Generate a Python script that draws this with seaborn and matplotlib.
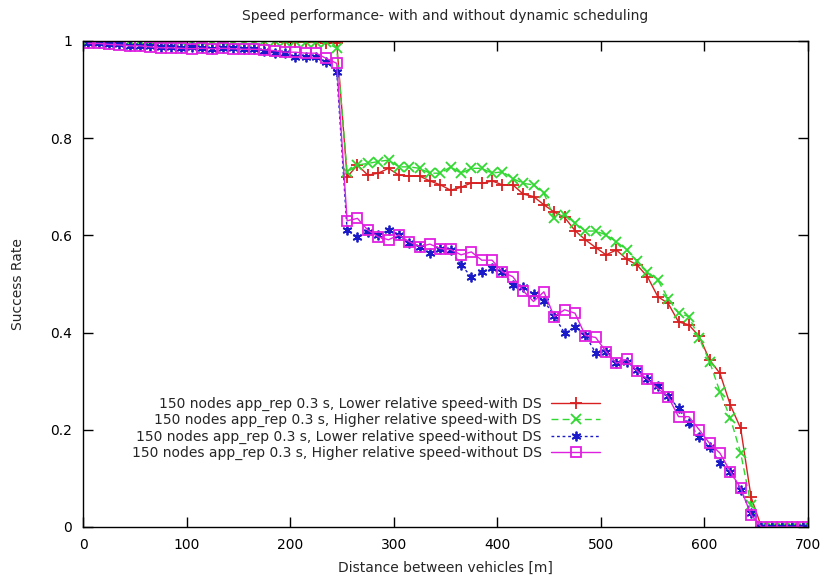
import matplotlib
matplotlib.use("Agg")
import matplotlib.pyplot as plt
import seaborn as sns
import numpy as np
import pandas as pd

# ---------------- data ----------------
distance = list(range(5, 700, 10))  # 5 .. 695

red_with_ds_low = [1.0, 1.0, 1.0, 1.0, 1.0, 1.0, 1.0, 1.0, 1.0, 1.0,
                   1.0, 1.0, 1.0, 1.0, 1.0, 1.0, 1.0, 1.0, 1.0, 0.998,
                   0.998, 0.997, 0.997, 0.996, 0.995,
                   0.72, 0.745, 0.724, 0.728, 0.738, 0.724, 0.722, 0.722, 0.712, 0.704,
                   0.693, 0.699, 0.708, 0.707, 0.712, 0.704, 0.704, 0.685, 0.68, 0.663,
                   0.648, 0.637, 0.610, 0.591, 0.575, 0.560, 0.570, 0.551, 0.539, 0.515,
                   0.474, 0.460, 0.422, 0.416, 0.392, 0.344, 0.316, 0.251, 0.203, 0.062,
                   0.0, 0.0, 0.0, 0.0, 0.0]

green_with_ds_high = [1.0, 1.0, 1.0, 1.0, 1.0, 1.0, 1.0, 1.0, 1.0, 1.0,
                      1.0, 1.0, 1.0, 1.0, 1.0, 1.0, 1.0, 1.0, 1.0, 1.0,
                      0.999, 0.998, 0.998, 0.997, 0.985,
                      0.73, 0.745, 0.748, 0.752, 0.755, 0.741, 0.741, 0.738, 0.728, 0.728,
                      0.741, 0.728, 0.738, 0.738, 0.728, 0.731, 0.717, 0.707, 0.704, 0.687,
                      0.636, 0.643, 0.625, 0.609, 0.609, 0.601, 0.587, 0.570, 0.547, 0.525,
                      0.508, 0.470, 0.440, 0.433, 0.388, 0.340, 0.278, 0.224, 0.152, 0.045,
                      0.0, 0.0, 0.0, 0.0, 0.0]

blue_without_ds_low = [0.995, 0.995, 0.993, 0.993, 0.99, 0.99, 0.99, 0.988, 0.988, 0.986,
                       0.987, 0.985, 0.984, 0.986, 0.985, 0.984, 0.983, 0.98, 0.975, 0.975,
                       0.968, 0.968, 0.968, 0.957, 0.937,
                       0.611, 0.597, 0.608, 0.600, 0.611, 0.601, 0.584, 0.577, 0.563, 0.573,
                       0.570, 0.539, 0.515, 0.525, 0.532, 0.525, 0.498, 0.493, 0.480, 0.466,
                       0.434, 0.399, 0.412, 0.395, 0.358, 0.361, 0.337, 0.340, 0.323, 0.304,
                       0.290, 0.270, 0.244, 0.213, 0.186, 0.165, 0.131, 0.114, 0.077, 0.028,
                       0.0, 0.0, 0.0, 0.0, 0.0]

magenta_without_ds_high = [0.995, 0.995, 0.993, 0.992, 0.99, 0.99, 0.988, 0.986, 0.986, 0.985,
                           0.984, 0.985, 0.984, 0.985, 0.984, 0.983, 0.983, 0.982, 0.98, 0.977,
                           0.977, 0.975, 0.975, 0.964, 0.954,
                           0.630, 0.635, 0.611, 0.597, 0.591, 0.601, 0.587, 0.577, 0.582, 0.573,
                           0.571, 0.560, 0.566, 0.549, 0.549, 0.525, 0.515, 0.486, 0.464, 0.484,
                           0.433, 0.447, 0.440, 0.394, 0.390, 0.361, 0.337, 0.345, 0.321, 0.304,
                           0.285, 0.268, 0.227, 0.227, 0.200, 0.172, 0.152, 0.114, 0.080, 0.025,
                           0.0, 0.0, 0.0, 0.0, 0.0]

labels = ["150 nodes app_rep 0.3 s, Lower relative speed-with DS",
          "150 nodes app_rep 0.3 s, Higher relative speed-with DS",
          "150 nodes app_rep 0.3 s, Lower relative speed-without DS",
          "150 nodes app_rep 0.3 s, Higher relative speed-without DS"]

x_ticks = [0, 100, 200, 300, 400, 500, 600, 700]
y_ticks = [0, 0.2, 0.4, 0.6, 0.8, 1]
y_tick_labels = ["0", "0.2", "0.4", "0.6", "0.8", "1"]

title = "Speed performance- with and without dynamic scheduling"
x_label = "Distance between vehicles [m]"
y_label = "Success Rate"

# ---------------- style ----------------
sns.set_style("ticks")
plt.rcParams["font.family"] = ["DejaVu Sans"]

fig = plt.figure(figsize=(8.24, 5.81), dpi=100)
ax = fig.add_axes([83 / 824, 1 - 527 / 581, (808 - 83) / 824, (527 - 41) / 581])

series = [red_with_ds_low, green_with_ds_high, blue_without_ds_low, magenta_without_ds_high]
colors = ["#d82020", "#30d830", "#1a1ac8", "#e020e0"]
markers = ["+", "x", (6, 2, 0), "s"]
msizes = [9, 7, 7, 7]
styles = ["-", (0, (5, 3)), (0, (2, 2)), "-"]

for vals, lab, col, mk, ms, ls in zip(series, labels, colors, markers, msizes, styles):
    df = pd.DataFrame({"x": distance, "y": vals})
    sns.lineplot(data=df, x="x", y="y", ax=ax, color=col, label=lab,
                 marker=mk, markersize=ms, markeredgewidth=1.3,
                 markerfacecolor="none" if mk == "s" else col,
                 markeredgecolor=col, linewidth=1.0, linestyle=ls,
                 errorbar=None, sort=False)

ax.set_xlim(0, 700)
ax.set_ylim(0, 1)
ax.set_xticks(x_ticks)
ax.set_xticklabels([str(t) for t in x_ticks])
ax.set_yticks(y_ticks)
ax.set_yticklabels(y_tick_labels)
ax.tick_params(direction="in", length=7, width=1, top=True, right=True,
               labelsize=10, pad=8, colors="black")
for sp in ax.spines.values():
    sp.set_visible(True)
    sp.set_color("black")
    sp.set_linewidth(1.0)

ax.set_xlabel(x_label, fontsize=10, labelpad=6)
ax.set_ylabel(y_label, fontsize=10, labelpad=18)
ax.set_title(title, fontsize=10, pad=15)

leg = ax.legend(loc="upper right", bbox_to_anchor=(600 / 824, 1 - 397 / 581),
                bbox_transform=fig.transFigure, frameon=False, markerfirst=False,
                fontsize=10, handlelength=3.5, handletextpad=0.7, labelspacing=0.15,
                borderpad=0, borderaxespad=0)

fig.savefig("out.png", dpi=100)
